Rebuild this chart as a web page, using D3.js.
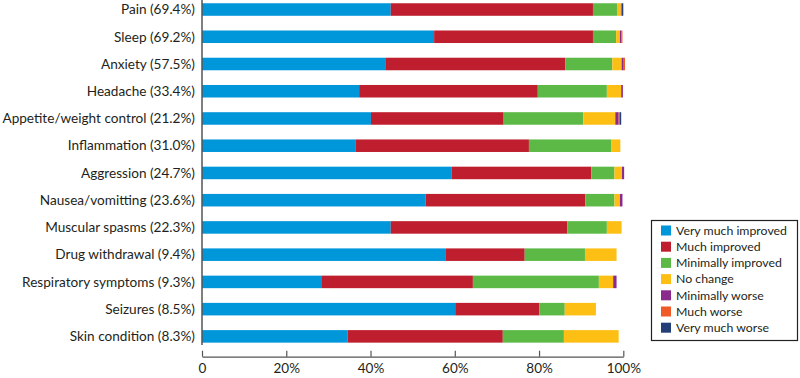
<!DOCTYPE html>
<html>
<head>
<meta charset="utf-8">
<script src="https://cdn.jsdelivr.net/npm/d3@7"></script>
<style>
  html, body { margin: 0; padding: 0; background: #fff; }
  svg { display: block; }
  text { font-family: Lato, "Liberation Sans", sans-serif; fill: #231f20; }
</style>
</head>
<body>
<svg id="chart" width="800" height="378"></svg>
<script>
const categories = [
  "Pain (69.4%)", "Sleep (69.2%)", "Anxiety (57.5%)", "Headache (33.4%)",
  "Appetite/weight control (21.2%)", "Inflammation (31.0%)", "Aggression (24.7%)",
  "Nausea/vomitting (23.6%)", "Muscular spasms (22.3%)", "Drug withdrawal (9.4%)",
  "Respiratory symptoms (9.3%)", "Seizures (8.5%)", "Skin condition (8.3%)"
];
const seriesNames = [
  "Very much improved", "Much improved", "Minimally improved", "No change",
  "Minimally worse", "Much worse", "Very much worse"
];
const veryMuchImproved  = [44.8, 55.1, 43.5, 37.3, 40.1, 36.4, 59.3, 53.1, 44.8, 57.9, 28.3, 60.1, 34.6];
const muchImproved      = [48.0, 37.7, 42.7, 42.4, 31.5, 41.2, 33.1, 37.9, 41.9, 18.7, 36.0, 20.0, 36.8];
const minimallyImproved = [5.7, 5.5, 11.2, 16.4, 18.9, 19.5, 5.5, 6.9, 9.4, 14.3, 29.9, 6.0, 14.5];
const noChange          = [0.9, 0.9, 2.2, 3.4, 7.6, 2.2, 1.8, 1.3, 3.5, 7.5, 3.4, 7.4, 13.0];
const minimallyWorse    = [0.0, 0.3, 0.5, 0.4, 0.8, 0.0, 0.5, 0.6, 0.0, 0.0, 0.8, 0.0, 0.0];
const muchWorse         = [0.2, 0.3, 0.3, 0.0, 0.3, 0.0, 0.0, 0.0, 0.0, 0.0, 0.0, 0.0, 0.0];
const veryMuchWorse     = [0.4, 0.0, 0.0, 0.0, 0.3, 0.0, 0.0, 0.0, 0.0, 0.0, 0.0, 0.0, 0.0];
const xTicks = [0, 20, 40, 60, 80, 100];

const seriesValues = [veryMuchImproved, muchImproved, minimallyImproved, noChange,
                      minimallyWorse, muchWorse, veryMuchWorse];
const colors = ["#0096da", "#be1e2d", "#5cb946", "#fdbf14", "#8b2a8d", "#f05a28", "#243f78"];

const table = categories.map((c, i) => {
  const row = { category: c };
  seriesNames.forEach((s, j) => row[s] = seriesValues[j][i]);
  return row;
});
const stacked = d3.stack().keys(seriesNames)(table);

const svg = d3.select("#chart");
const x = d3.scaleLinear().domain([0, 100]).range([202, 623.3]);
const y = d3.scaleBand().domain(categories).range([-4.1, 350]).paddingInner(0.54).paddingOuter(0.27);
const color = d3.scaleOrdinal().domain(seriesNames).range(colors);

// bars
svg.append("g").selectAll("g").data(stacked).join("g")
  .attr("fill", d => color(d.key))
  .selectAll("rect").data(d => d).join("rect")
  .attr("x", d => x(d[0]))
  .attr("y", d => y(d.data.category))
  .attr("width", d => Math.max(0, x(d[1]) - x(d[0])))
  .attr("height", y.bandwidth());

// category labels
svg.append("g").selectAll("text").data(categories).join("text")
  .attr("x", 195)
  .attr("y", d => y(d) + y.bandwidth() / 2)
  .attr("dy", "0.35em")
  .attr("text-anchor", "end")
  .style("font-size", "13.6px")
  .text(d => d);

// y axis line
svg.append("line")
  .attr("x1", x(0)).attr("x2", x(0))
  .attr("y1", 0).attr("y2", 345)
  .attr("stroke", "#555").attr("stroke-width", 1.5);

// x axis
const xAxis = d3.axisBottom(x)
  .tickValues(xTicks)
  .tickFormat(d => d === 0 ? "0" : d + "%")
  .tickSizeInner(-6).tickSizeOuter(0).tickPadding(7);
const gx = svg.append("g").attr("transform", "translate(0,356.7)").call(xAxis);
gx.select(".domain").attr("stroke", "#555").attr("stroke-width", 1.2);
gx.selectAll(".tick line").attr("stroke", "#555").attr("stroke-width", 1.2);
gx.selectAll(".tick text")
  .style("font-size", "13.5px")
  .style("font-family", "Lato, 'Liberation Sans', sans-serif")
  .attr("fill", "#231f20");

// legend
const lg = svg.append("g");
lg.append("rect")
  .attr("x", 651.5).attr("y", 220.5).attr("width", 146).attr("height", 120)
  .attr("fill", "#fff").attr("stroke", "#222").attr("stroke-width", 1.2);
const items = lg.selectAll("g.item").data(seriesNames).join("g")
  .attr("class", "item")
  .attr("transform", (d, i) => `translate(661, ${230.5 + i * 16.2})`);
items.append("rect")
  .attr("x", 0).attr("y", -5).attr("width", 10).attr("height", 10)
  .attr("fill", d => color(d));
items.append("text")
  .attr("x", 15).attr("y", 0).attr("dy", "0.35em")
  .style("font-size", "12.3px")
  .text(d => d);
</script>
</body>
</html>
